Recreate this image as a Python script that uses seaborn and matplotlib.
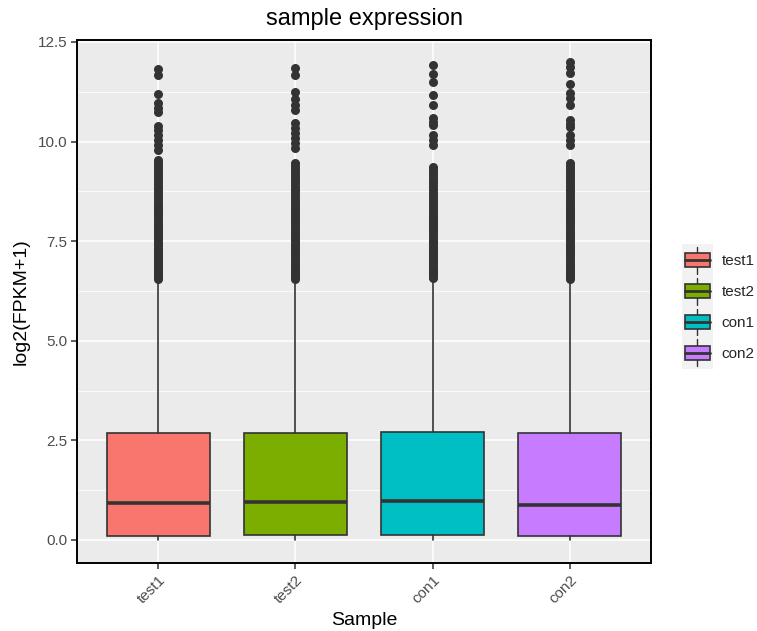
import numpy as np
import pandas as pd
import matplotlib
matplotlib.use("Agg")
import matplotlib.pyplot as plt
import seaborn as sns
from matplotlib.patches import Rectangle
from matplotlib.lines import Line2D
from matplotlib.legend_handler import HandlerBase
from matplotlib.ticker import MultipleLocator

# ---- data ----
samples = ["test1", "test2", "con1", "con2"]
colors = ["#F8766D", "#7CAE00", "#00BFC4", "#C77CFF"]

q1 = [0.10, 0.13, 0.13, 0.10]
median = [0.93, 0.95, 0.98, 0.88]
q3 = [2.69, 2.69, 2.71, 2.69]
whisker_low = [0.0, 0.0, 0.0, 0.0]
whisker_high = [6.50, 6.50, 6.50, 6.50]

outliers_test1 = [11.82, 11.66, 11.20, 10.98, 10.85, 10.74, 10.40, 10.28, 10.16, 10.04,
                  9.92, 9.80, 9.54, 9.47, 9.40, 9.33, 9.26, 9.19, 9.12, 9.05, 8.98,
                  8.91, 8.84, 8.77, 8.70, 8.63, 8.56, 8.49, 8.42, 8.36, 8.30, 8.24,
                  8.18, 8.12, 8.06, 8.00, 7.94, 7.88, 7.82, 7.76, 7.70, 7.64, 7.58,
                  7.52, 7.46, 7.40, 7.34, 7.28, 7.22, 7.16, 7.10, 7.04, 6.98, 6.92,
                  6.86, 6.80, 6.75, 6.70, 6.65, 6.60, 6.56]
outliers_test2 = [11.84, 11.66, 11.25, 11.06, 10.92, 10.79, 10.46, 10.34, 10.22, 10.10,
                  9.96, 9.84, 9.45, 9.38, 9.31, 9.24, 9.17, 9.10, 9.03, 8.96, 8.89,
                  8.82, 8.75, 8.68, 8.61, 8.54, 8.47, 8.40, 8.34, 8.28, 8.22, 8.16,
                  8.10, 8.04, 7.98, 7.92, 7.86, 7.80, 7.74, 7.68, 7.62, 7.56, 7.50,
                  7.44, 7.38, 7.32, 7.26, 7.20, 7.14, 7.08, 7.02, 6.96, 6.90, 6.84,
                  6.78, 6.73, 6.68, 6.63, 6.59, 6.55]
outliers_con1 = [11.93, 11.70, 11.50, 11.17, 10.92, 10.58, 10.50, 10.42, 10.17, 10.04,
                 9.91, 9.37, 9.30, 9.23, 9.16, 9.09, 9.02, 8.95, 8.88, 8.81, 8.74,
                 8.67, 8.60, 8.53, 8.46, 8.39, 8.32, 8.26, 8.20, 8.14, 8.08, 8.02,
                 7.96, 7.90, 7.84, 7.78, 7.72, 7.66, 7.60, 7.54, 7.48, 7.42, 7.36,
                 7.30, 7.24, 7.18, 7.12, 7.06, 7.00, 6.94, 6.88, 6.82, 6.77, 6.72,
                 6.67, 6.62, 6.57]
outliers_con2 = [12.01, 11.88, 11.72, 11.44, 11.21, 11.10, 10.92, 10.54, 10.45, 10.37,
                 10.17, 10.04, 9.91, 9.45, 9.38, 9.31, 9.24, 9.17, 9.10, 9.03, 8.96,
                 8.89, 8.82, 8.75, 8.68, 8.61, 8.54, 8.47, 8.40, 8.34, 8.28, 8.22,
                 8.16, 8.10, 8.04, 7.98, 7.92, 7.86, 7.80, 7.74, 7.68, 7.62, 7.56,
                 7.50, 7.44, 7.38, 7.32, 7.26, 7.20, 7.14, 7.08, 7.02, 6.96, 6.90,
                 6.84, 6.78, 6.73, 6.68, 6.63, 6.59, 6.55]

title = "sample expression"
x_label = "Sample"
y_label = "log2(FPKM+1)"
y_ticks = [0.0, 2.5, 5.0, 7.5, 10.0, 12.5]

# ---- style ----
sns.set_theme(style="darkgrid")
plt.rcParams["font.family"] = ["Liberation Sans", "DejaVu Sans"]

EDGE = "#333333"
PANEL = "#EBEBEB"

outlier_table = pd.DataFrame({
    "Sample": sum([[s] * len(v) for s, v in zip(
        samples, [outliers_test1, outliers_test2, outliers_con1, outliers_con2])], []),
    "value": outliers_test1 + outliers_test2 + outliers_con1 + outliers_con2,
})

fig = plt.figure(figsize=(7.57, 6.31), dpi=100)
fig.patch.set_facecolor("white")
ax = fig.add_axes([77 / 757, 68 / 631, (651 - 77) / 757, (563 - 40) / 631])
ax.set_facecolor(PANEL)

# outlier points
sns.stripplot(data=outlier_table, x="Sample", y="value", order=samples,
              jitter=False, color=EDGE, size=6.5, linewidth=0, ax=ax, zorder=4)

# boxes from summary statistics
stats = []
for i, s in enumerate(samples):
    stats.append(dict(label=s, med=median[i], q1=q1[i], q3=q3[i],
                      whislo=whisker_low[i], whishi=whisker_high[i], fliers=[]))
bp = ax.bxp(stats, positions=range(len(samples)), widths=0.75, patch_artist=True,
            showfliers=False, showcaps=False, manage_ticks=False,
            boxprops=dict(edgecolor=EDGE, linewidth=1.2),
            whiskerprops=dict(color=EDGE, linewidth=1.2),
            medianprops=dict(color=EDGE, linewidth=2.6, solid_capstyle="butt"),
            zorder=3)
for patch, c in zip(bp["boxes"], colors):
    patch.set_facecolor(c)

# axes, grid, ticks
ax.set_xlim(-0.59, 3.59)
ax.set_ylim(-0.58, 12.55)
ax.yaxis.set_major_locator(MultipleLocator(2.5))
ax.yaxis.set_minor_locator(MultipleLocator(1.25))
ax.set_yticks(y_ticks)
ax.set_yticklabels([f"{t:.1f}" for t in y_ticks])
ax.set_xticks(range(len(samples)))
ax.set_xticklabels(samples, rotation=45, ha="right", rotation_mode="anchor")
ax.grid(which="major", color="white", linewidth=1.1)
ax.grid(which="minor", axis="y", color="white", linewidth=0.55)
ax.set_axisbelow(True)
ax.tick_params(axis="both", which="major", length=4, width=1.1, color=EDGE,
               labelsize=11, labelcolor="#4D4D4D", pad=3, direction="out",
               bottom=True, left=True)
ax.tick_params(axis="both", which="minor", length=0)
for sp in ax.spines.values():
    sp.set_visible(True)
    sp.set_color("black")
    sp.set_linewidth(1.4)

ax.set_xlabel(x_label, fontsize=14, color="black", labelpad=4)
ax.set_ylabel(y_label, fontsize=14, color="black", labelpad=6)
ax.set_title(title, fontsize=17, color="black", pad=11)


class BoxKey(HandlerBase):
    """Legend key drawn as a small boxplot glyph on a light grey tile."""

    def create_artists(self, legend, orig_handle, xdescent, ydescent,
                       width, height, fontsize, trans):
        x0, y0 = -xdescent, -ydescent
        pad_y = height * 0.05
        bg = Rectangle((x0, y0 - pad_y), width, height + 2 * pad_y,
                       facecolor="#F2F2F2", edgecolor="none", transform=trans)
        cx = x0 + width / 2
        whisk = Line2D([cx, cx], [y0 + height * 0.05, y0 + height * 0.95],
                       color=EDGE, linewidth=1.0, transform=trans)
        bw, bh = width * 0.8, height * 0.47
        box = Rectangle((cx - bw / 2, y0 + (height - bh) / 2), bw, bh,
                        facecolor=orig_handle.get_facecolor(), edgecolor=EDGE,
                        linewidth=1.2, transform=trans)
        med = Line2D([cx - bw / 2, cx + bw / 2], [y0 + height / 2] * 2,
                     color=EDGE, linewidth=2.0, transform=trans)
        return [bg, whisk, box, med]


handles = [Rectangle((0, 0), 1, 1, facecolor=c) for c in colors]
fig.legend(handles, samples, handler_map={Rectangle: BoxKey()},
           loc="center left", bbox_to_anchor=(682 / 757, 0.514),
           frameon=False, fontsize=11, handlelength=2.0, handleheight=2.65,
           labelspacing=0.05, handletextpad=0.6, borderpad=0, borderaxespad=0)

fig.savefig("out.png", dpi=100)
